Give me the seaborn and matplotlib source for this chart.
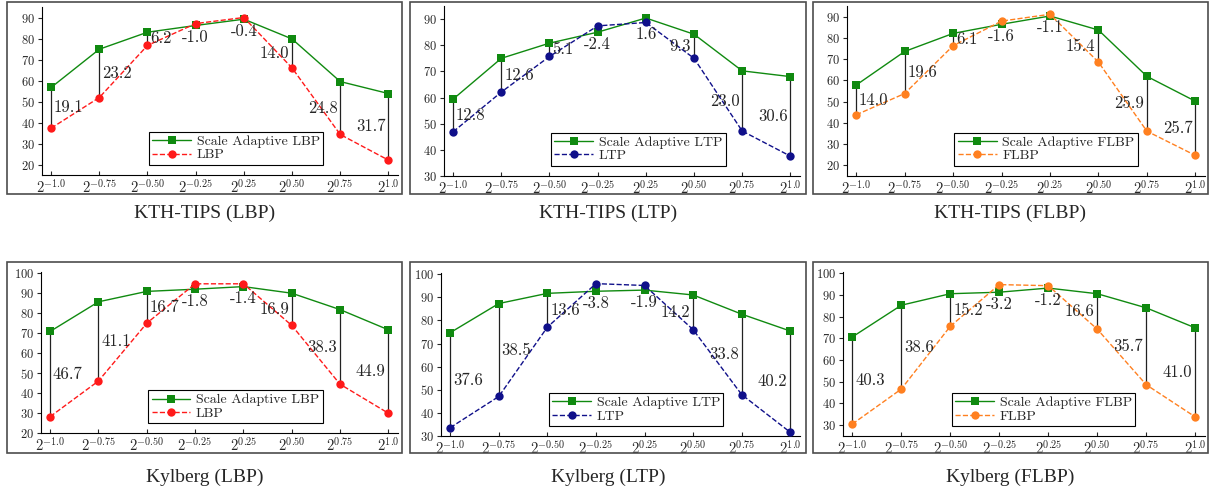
import matplotlib
matplotlib.use("Agg")
import matplotlib.pyplot as plt
import matplotlib.patches as mpatches
import seaborn as sns

sns.set_style("ticks")
plt.rcParams["font.family"] = ["cmr10", "DejaVu Sans"]
plt.rcParams["mathtext.fontset"] = "cm"
plt.rcParams["axes.formatter.use_mathtext"] = True

W, H = 1212, 490

# ── data ──────────────────────────────────────────────────────────────────────
x_labels = [r"$2^{-1.0}$", r"$2^{-0.75}$", r"$2^{-0.50}$", r"$2^{-0.25}$",
            r"$2^{0.25}$", r"$2^{0.50}$", r"$2^{0.75}$", r"$2^{1.0}$"]

kth_sa_lbp = [56.7, 74.9, 83.0, 86.2, 89.2, 79.8, 59.5, 53.8]
kth_lbp = [37.3, 51.9, 76.7, 87.1, 90.0, 66.0, 34.3, 22.1]
kth_lbp_gap = ["19.1", "23.2", "6.2", "-1.0", "-0.4", "14.0", "24.8", "31.7"]

kth_sa_ltp = [59.4, 75.0, 80.8, 85.0, 90.4, 84.2, 70.2, 68.0]
kth_ltp = [46.9, 62.1, 75.7, 87.4, 88.7, 75.0, 47.2, 37.6]
kth_ltp_gap = ["12.8", "12.6", "5.1", "-2.4", "1.6", "9.3", "23.0", "30.6"]

kth_sa_flbp = [57.8, 73.6, 82.1, 86.4, 90.3, 83.7, 61.9, 50.2]
kth_flbp = [43.8, 53.8, 76.3, 87.9, 91.1, 68.6, 36.1, 24.7]
kth_flbp_gap = ["14.0", "19.6", "6.1", "-1.6", "-1.1", "15.4", "25.9", "25.7"]

kyl_sa_lbp = [70.8, 85.6, 90.8, 91.9, 93.2, 89.9, 81.7, 71.6]
kyl_lbp = [28.2, 46.0, 74.9, 94.6, 94.6, 73.8, 44.4, 29.9]
kyl_lbp_gap = ["46.7", "41.1", "16.7", "-1.8", "-1.4", "16.9", "38.3", "44.9"]

kyl_sa_ltp = [74.7, 87.3, 91.7, 92.6, 93.1, 91.0, 82.7, 75.4]
kyl_ltp = [33.6, 47.1, 77.1, 95.9, 95.1, 76.0, 47.9, 31.6]
kyl_ltp_gap = ["37.6", "38.5", "13.6", "-3.8", "-1.9", "14.2", "33.8", "40.2"]

kyl_sa_flbp = [70.6, 85.2, 90.5, 91.2, 93.1, 90.5, 84.0, 74.8]
kyl_flbp = [30.5, 46.6, 75.5, 94.7, 94.2, 74.2, 48.6, 33.8]
kyl_flbp_gap = ["40.3", "38.6", "15.2", "-3.2", "-1.2", "16.6", "35.7", "41.0"]

GREEN = "#108a10"
COLORS = {"LBP": "#ff1a1a", "LTP": "#10108a", "FLBP": "#ff8020"}


def fig_rect(l, t, r, b):
    return [l / W, 1 - b / H, (r - l) / W, (b - t) / H]


def draw_panel(ax, sa, base, gaps, name, ylim, yticks):
    xs = list(range(len(sa)))
    col = COLORS[name]
    # gap lines between the two curves
    for x, a, b in zip(xs, sa, base):
        ax.plot([x, x], [min(a, b), max(a, b)], color="#222222", lw=0.9, zorder=1)
    sns.lineplot(x=xs, y=sa, ax=ax, color=GREEN, lw=1.0, marker="s",
                 markersize=5.5, markeredgewidth=0, label=f"Scale Adaptive {name}",
                 zorder=3)
    sns.lineplot(x=xs, y=base, ax=ax, color=col, lw=1.0, linestyle="--",
                 marker="o", markersize=6, markeredgewidth=0, label=name,
                 zorder=3)
    for x, a, b, g in zip(xs, sa, base, gaps):
        if x <= 2:
            ax.annotate(g, (x, (a + b) / 2), xytext=(2, 0), textcoords="offset points",
                        ha="left", va="center", fontsize=12, zorder=4)
        elif x <= 4:
            ax.annotate(g, (x, min(a, b)), xytext=(0, -3), textcoords="offset points",
                        ha="center", va="top", fontsize=12, zorder=4)
        else:
            ax.annotate(g, (x, (a + b) / 2), xytext=(-2, 0), textcoords="offset points",
                        ha="right", va="center", fontsize=12, zorder=4)
    ax.set_xlim(-0.19, 7.2)
    ax.set_ylim(*ylim)
    ax.set_yticks(yticks)
    ax.set_xticks(xs)
    ax.set_xticklabels(x_labels)
    ax.tick_params(axis="x", direction="in", length=3, width=0.8, labelsize=10.5, pad=2)
    ax.tick_params(axis="y", direction="out", length=3, width=0.8, labelsize=9, pad=2)
    for s in ("top", "right"):
        ax.spines[s].set_visible(False)
    for s in ("left", "bottom"):
        ax.spines[s].set_linewidth(0.8)
        ax.spines[s].set_color("black")
    leg = ax.legend(loc="lower left", bbox_to_anchor=(0.30, 0.06), fontsize=10,
                    frameon=True, fancybox=False, framealpha=1, edgecolor="black",
                    handlelength=2.8, labelspacing=0.05, borderpad=0.25,
                    handletextpad=0.4, borderaxespad=0)
    leg.get_frame().set_linewidth(0.8)


fig = plt.figure(figsize=(W / 100, H / 100), dpi=100)

panels = [
    ((42, 7, 398, 175), kth_sa_lbp, kth_lbp, kth_lbp_gap, "LBP", (15, 95), range(20, 91, 10), "KTH-TIPS (LBP)"),
    ((444, 6, 800, 176), kth_sa_ltp, kth_ltp, kth_ltp_gap, "LTP", (30, 95), range(30, 91, 10), "KTH-TIPS (LTP)"),
    ((847, 6, 1205, 176), kth_sa_flbp, kth_flbp, kth_flbp_gap, "FLBP", (15, 95), range(20, 91, 10), "KTH-TIPS (FLBP)"),
    ((41, 272, 398, 433), kyl_sa_lbp, kyl_lbp, kyl_lbp_gap, "LBP", (20, 100.5), range(20, 101, 10), "Kylberg (LBP)"),
    ((441, 273, 800, 436), kyl_sa_ltp, kyl_ltp, kyl_ltp_gap, "LTP", (30, 100.5), range(30, 101, 10), "Kylberg (LTP)"),
    ((843, 272, 1205, 436), kyl_sa_flbp, kyl_flbp, kyl_flbp_gap, "FLBP", (25, 100.5), range(30, 101, 10), "Kylberg (FLBP)"),
]
frames = [(7, 2, 402, 194), (410, 2, 806, 194), (813, 2, 1208, 194),
          (7, 262, 402, 453), (410, 262, 806, 453), (813, 262, 1208, 453)]
title_y = [213, 213, 213, 477, 477, 477]

for (box, sa, base, gaps, name, ylim, yt, title), fr, ty in zip(panels, frames, title_y):
    ax = fig.add_axes(fig_rect(*box))
    draw_panel(ax, sa, base, gaps, name, ylim, list(yt))
    l, t, r, b = fr
    fig.patches.append(mpatches.Rectangle((l / W, 1 - b / H), (r - l) / W, (b - t) / H,
                                          transform=fig.transFigure, fill=False,
                                          edgecolor="#4d4d4d", lw=1.2, zorder=10))
    fig.text((l + r) / 2 / W, 1 - ty / H, title, ha="center", va="center",
             fontsize=14, family=["Liberation Serif"])

fig.savefig("out.png", dpi=100)
